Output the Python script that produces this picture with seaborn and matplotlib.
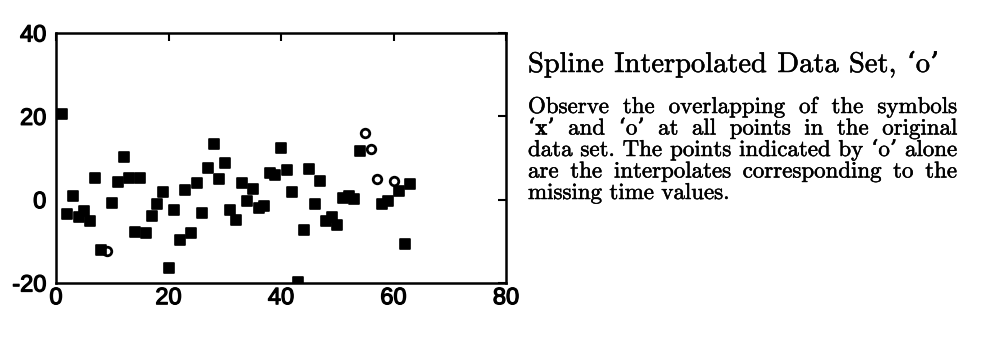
import matplotlib
matplotlib.use("Agg")
import matplotlib.pyplot as plt
import matplotlib.patheffects as pe
import seaborn as sns
import pandas as pd
import numpy as np

# ---- data ----
orig_x = [1, 2, 3, 4, 5, 6, 7, 8, 10, 11, 12, 13, 14, 15, 16, 17, 18, 19, 20,
          21, 22, 23, 24, 25, 26, 27, 28, 29, 30, 31, 32, 33, 34, 35, 36, 37,
          38, 39, 40, 41, 42, 43, 44, 45, 46, 47, 48, 49, 50, 51, 52, 53, 54,
          58, 59, 61, 62, 63]
orig_y = [20.5, -3.4, 0.8, -4.2, -2.8, -5.0, 5.1, -12.0, -0.8, 4.2, 10.2, 5.1,
          -7.8, 5.1, -8.0, -4.0, -1.0, 1.8, -16.4, -2.4, -9.6, 2.4, -8.0, 4.0,
          -3.3, 7.6, 13.4, 5.0, 8.9, -2.4, -4.8, 4.0, -0.2, 2.6, -2.0, -1.4,
          6.4, 6.0, 12.5, 7.2, 1.8, -19.8, -7.2, 7.4, -1.0, 4.6, -5.0, -4.2,
          -6.0, 0.4, 0.8, 0.2, 11.6, -1.0, -0.4, 2.2, -10.6, 3.8]
interp_x = [9, 55, 56, 57, 60]
interp_y = [-12.4, 16.1, 12.2, 5.0, 4.6]

x_ticks = [0, 20, 40, 60, 80]
y_ticks = [-20, 0, 20, 40]

title = "Spline Interpolated Data Set, \u2018o\u2019"
body_lines = [
    "Observe the overlapping of the symbols",
    "\u2018x\u2019 and \u2018o\u2019 at all points in the original",
    "data set. The points indicated by \u2018o\u2019 alone",
    "are the interpolates corresponding to the",
    "missing time values.",
]

# ---- figure ----
sns.set_style("white")
W, H = 981, 345
fig = plt.figure(figsize=(W / 100, H / 100), dpi=100)
ax = fig.add_axes([56 / W, 1 - 283 / H, (506 - 56) / W, (283 - 33) / H])

df_o = pd.DataFrame({"t": orig_x, "v": orig_y})
df_i = pd.DataFrame({"t": interp_x, "v": interp_y})

sns.scatterplot(data=df_i, x="t", y="v", ax=ax, marker="o", s=38,
                facecolor="white", edgecolor="black", linewidth=2.0, zorder=2)
sns.scatterplot(data=df_o, x="t", y="v", ax=ax, marker="s", s=56,
                color="black", edgecolor="black", linewidth=1.2, zorder=3)

ax.set_xlim(0, 80)
ax.set_ylim(-20, 40)
ax.set_xticks(x_ticks)
ax.set_yticks(y_ticks)
ax.set_xticklabels([str(v) for v in x_ticks])
ax.set_yticklabels([str(v) for v in y_ticks])
ax.set_xlabel("")
ax.set_ylabel("")
for s in ax.spines.values():
    s.set_visible(True)
    s.set_color("black")
    s.set_linewidth(1.8)
ax.tick_params(direction="in", length=6, width=1.5, top=True, right=True,
               colors="black", labelsize=17)
ax.tick_params(axis="x", pad=3)
ax.tick_params(axis="y", pad=7)
heavy = [pe.withStroke(linewidth=0.9, foreground="black")]
for lab in ax.get_xticklabels() + ax.get_yticklabels():
    lab.set_family("Liberation Sans")
    lab.set_color("black")
    lab.set_path_effects(heavy)

# ---- text block (justified) ----
fig.canvas.draw()
renderer = fig.canvas.get_renderer()
text_fx = [pe.withStroke(linewidth=0.35, foreground="black")]

def place_line(words, y_px, size, x_left, x_right=None, gap_em=0.33):
    texts = []
    for w in words:
        fam = ["cmb10", "DejaVu Serif"] if w.startswith("\u2018x") else ["cmr10", "DejaVu Serif"]
        t = fig.text(0, 1 - y_px / H, w, fontsize=size, family=fam,
                     va="baseline", ha="left", color="black",
                     path_effects=text_fx)
        texts.append(t)
    widths = [t.get_window_extent(renderer).width for t in texts]
    if x_right is not None and len(words) > 1:
        gap = (x_right - x_left - sum(widths)) / (len(words) - 1)
    else:
        gap = gap_em * size * 100 / 72
    pos = x_left
    for t, w in zip(texts, widths):
        t.set_x(pos / W)
        pos += w + gap

place_line(title.split(" "), 72, 20.5, 528, gap_em=0.36)
baselines = [113, 134.5, 156, 177.5, 199]
for i, line in enumerate(body_lines):
    right = 957 if i < len(body_lines) - 1 else None
    place_line(line.split(" "), baselines[i], 16.5, 528, right)

fig.savefig("out.png", dpi=100)
